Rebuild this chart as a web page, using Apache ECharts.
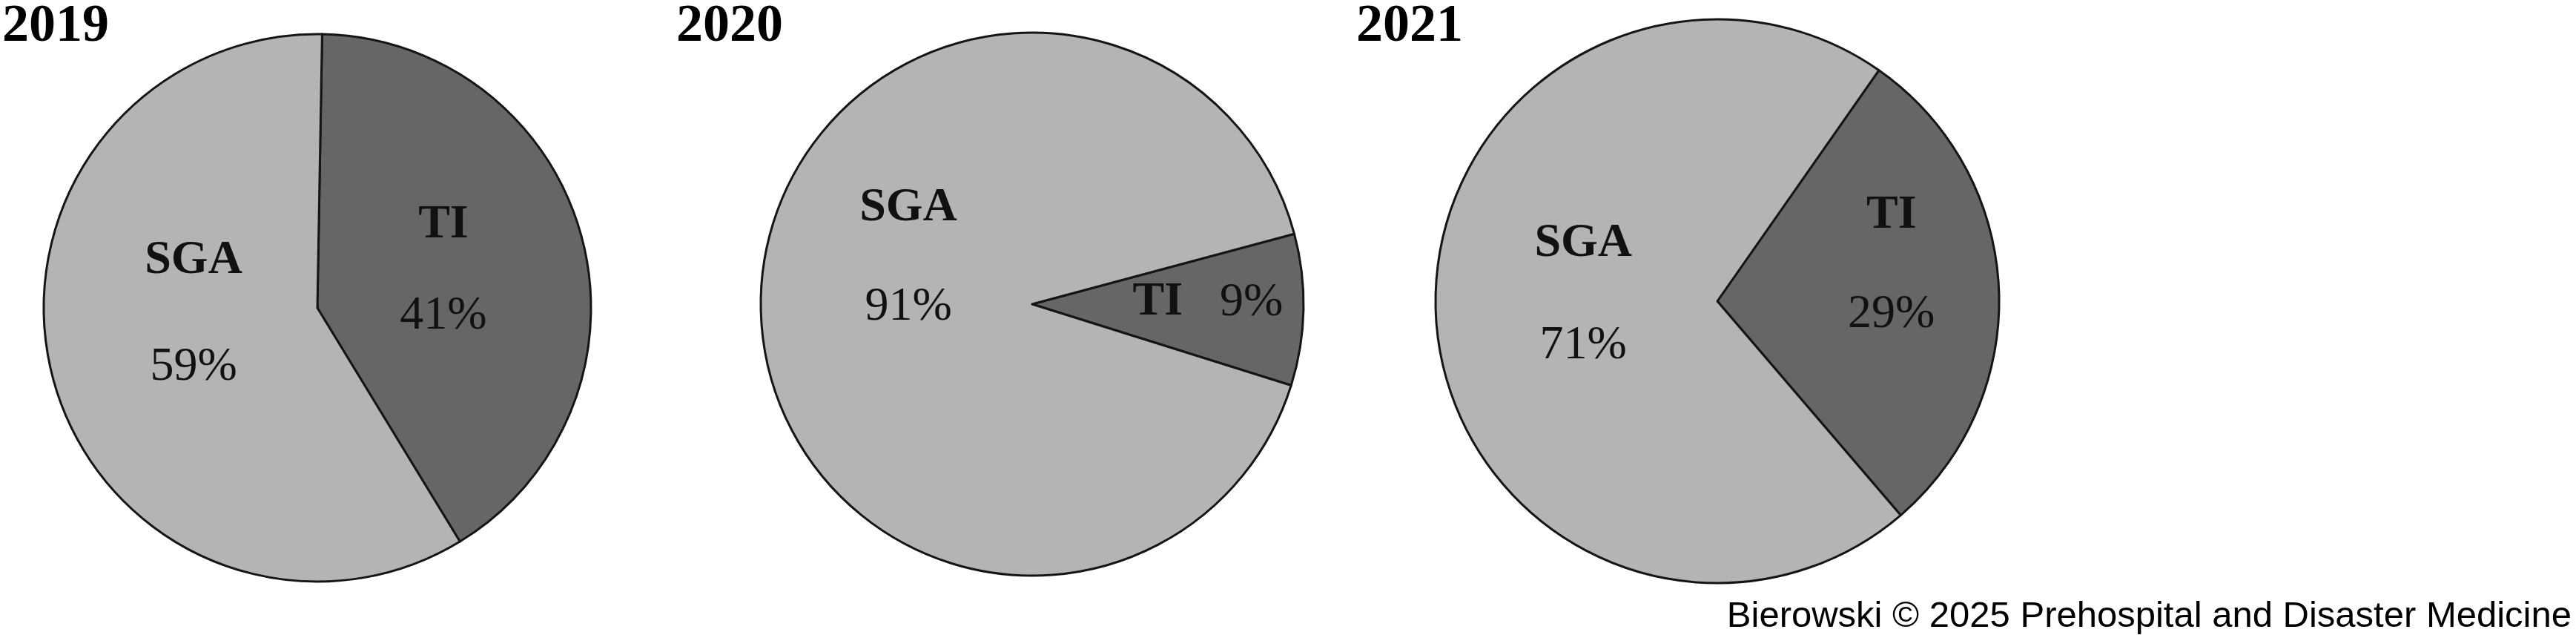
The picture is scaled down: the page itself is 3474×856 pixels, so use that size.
<!DOCTYPE html>
<html>
<head>
<meta charset="utf-8">
<title>SGA vs TI 2019-2021</title>
<script src="https://cdn.jsdelivr.net/npm/echarts@6/dist/echarts.min.js"></script>
<style>
    html, body { margin: 0; padding: 0; background: #fff; }
    #chart { width: 3474px; height: 856px; }
</style>
</head>
<body>
<div id="chart"></div>
<script>
// data (percent of cases)
var years = ['2019', '2020', '2021'];
var categories = ['TI', 'SGA'];
var tiShare = [41, 9, 29];
var sgaShare = [59, 91, 71];

// layout of each pie: center, radius, where TI slice starts, label line gap + nudge per slice
var pieLayout = [
    {center: [428, 415], radius: 369, startAngle: 89, lineGap: [122, 144], nudge: [[-11, -1], [14, -41]]},
    {center: [1392, 410], radius: 366, startAngle: 15, lineGap: [134, 134], nudge: [[51, -6], [19, -59]], inline: true},
    {center: [2316, 406], radius: 380, startAngle: 55, lineGap: [134, 138], nudge: [[42, -39], [12, -18]]}
];
var titleLeft = [3, 912, 1829];

var serif = '"Liberation Serif", "DejaVu Serif", serif';

var chart = echarts.init(document.getElementById('chart'));

var titles = years.map(function (y, i) {
    return {
        text: y,
        left: titleLeft[i],
        top: 0,
        padding: 0,
        textStyle: {fontFamily: serif, fontWeight: 'bold', fontSize: 72, color: '#000'}
    };
});
titles.push({
    text: 'Bierowski © 2025 Prehospital and Disaster Medicine',
    right: 6,
    bottom: 0,
    padding: 0,
    textStyle: {fontFamily: '"Liberation Sans", Arial, sans-serif', fontWeight: 'normal', fontSize: 49, color: '#000'}
});

var series = years.map(function (y, i) {
    var lay = pieLayout[i];
    return {
        name: y,
        type: 'pie',
        center: lay.center,
        radius: lay.radius,
        startAngle: lay.startAngle,
        clockwise: true,
        silent: true,
        avoidLabelOverlap: false,
        data: [
            {name: categories[0], value: tiShare[i], itemStyle: {color: '#666666'}},
            {name: categories[1], value: sgaShare[i], itemStyle: {color: '#b4b4b4'}}
        ],
        itemStyle: {borderColor: '#151515', borderWidth: 3},
        label: {
            show: true,
            position: 'inside',
            formatter: function (p) {
                var k = p.dataIndex === 0 ? 'a' : 'b';
                if (lay.inline && p.dataIndex === 0) {
                    return '{n' + k + '|' + p.name + '}{gap|}{v' + k + '|' + p.value + '%}';
                }
                return '{n' + k + '|' + p.name + '}\n{v' + k + '|' + p.value + '%}';
            },
            rich: {
                na: {fontFamily: serif, fontWeight: 'bold', fontSize: 64, color: '#111', lineHeight: lay.lineGap[0]},
                va: {fontFamily: serif, fontSize: 64, color: '#111', lineHeight: lay.lineGap[0]},
                nb: {fontFamily: serif, fontWeight: 'bold', fontSize: 64, color: '#111', lineHeight: lay.lineGap[1]},
                vb: {fontFamily: serif, fontSize: 64, color: '#111', lineHeight: lay.lineGap[1]},
                gap: {width: 50}
            }
        },
        labelLine: {show: false},
        labelLayout: function (p) {
            var d = lay.nudge[p.dataIndex];
            return {dx: d[0], dy: d[1]};
        }
    };
});

chart.setOption({
    animation: false,
    backgroundColor: '#fff',
    title: titles,
    series: series
});
</script>
</body>
</html>
